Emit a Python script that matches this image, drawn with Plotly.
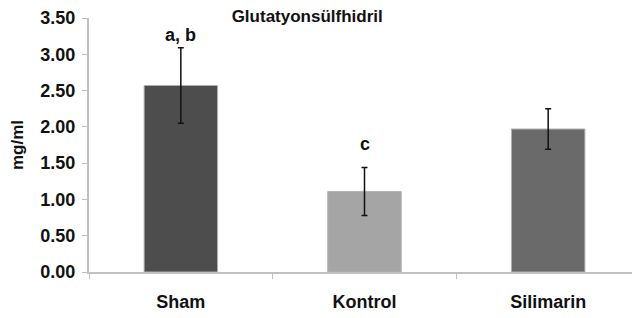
import plotly.graph_objects as go

categories = ["Sham", "Kontrol", "Silimarin"]
means = [2.57, 1.11, 1.97]
errors = [0.52, 0.33, 0.28]
letters = ["a, b", "c", ""]
letter_heights = [3.27, 1.76, None]
bar_colors = ["#4d4d4d", "#a5a5a5", "#6a6a6a"]
y_ticks = [0, 0.5, 1.0, 1.5, 2.0, 2.5, 3.0, 3.5]

FONT = "Liberation Sans, Arial, sans-serif"
INK = "#111111"

fig = go.Figure()
fig.add_trace(go.Bar(
    x=categories, y=means, width=0.4,
    marker=dict(color=bar_colors, line=dict(color="#b0b0b0", width=1)),
    error_y=dict(type="data", array=errors, color=INK, thickness=1.5, width=3),
))

for c, t, h in zip(categories, letters, letter_heights):
    if t:
        fig.add_annotation(x=c, y=h, text=t, showarrow=False,
                           font=dict(family=FONT, size=18, color=INK, weight="bold"))

# the page body adds an 8px offset, so the figure is sized to the remaining window
fig.update_layout(
    width=632, height=310,
    margin=dict(l=81, r=0, t=8, b=46),
    paper_bgcolor="white", plot_bgcolor="white",
    showlegend=False,
    title=dict(text="Glutatyonsülfhidril", x=0.396, xanchor="center",
               xref="paper", y=1 - 2 / 310, yref="container", yanchor="top",
               font=dict(family=FONT, size=17, color=INK, weight="bold")),
    font=dict(family=FONT, color=INK),
)
fig.update_xaxes(
    showline=True, linecolor="#c0c0c0", linewidth=2,
    ticks="outside", tickson="boundaries", ticklen=5, tickcolor="#c0c0c0",
    tickfont=dict(family=FONT, size=18, color=INK, weight="bold"),
    ticklabelstandoff=12,
    showgrid=False, zeroline=False,
)
fig.update_yaxes(
    range=[0, 3.5], tickvals=y_ticks, tickformat=".2f",
    showline=True, linecolor="#c0c0c0", linewidth=2,
    ticks="outside", ticklen=5, tickcolor="#c0c0c0",
    tickfont=dict(family=FONT, size=18, color=INK, weight="bold"),
    ticklabeloverflow="allow", ticklabelstandoff=3,
    showgrid=False, zeroline=False,
    title=dict(text="mg/ml", font=dict(family=FONT, size=17, color=INK, weight="bold"), standoff=14),
)

fig.write_html("out.html")
